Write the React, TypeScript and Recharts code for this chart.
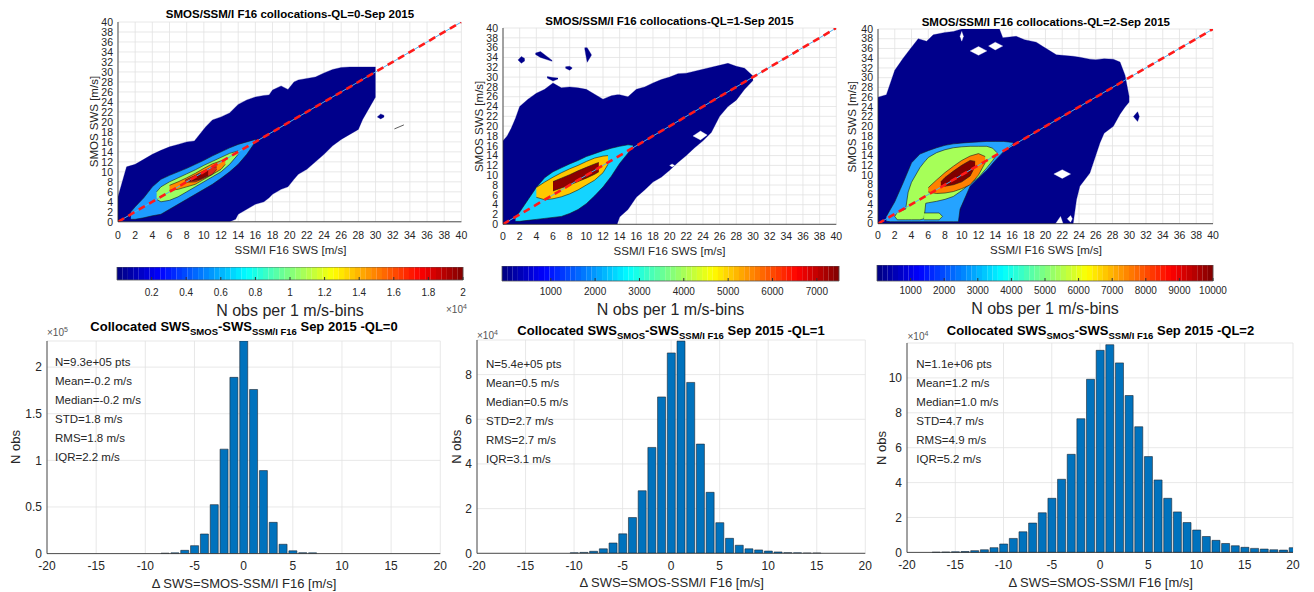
import React from 'react';
import { ComposedChart, Area, Line, Bar, XAxis, YAxis, CartesianGrid, ReferenceArea } from 'recharts';

type Tri = [number, number, number];

const FONT = '"Liberation Sans", Arial, Helvetica, sans-serif';
const INK = '#262626';
const GRID = '#e2e2e2';

// ---------- axis ticks ----------
const swsTicks = [0, 2, 4, 6, 8, 10, 12, 14, 16, 18, 20, 22, 24, 26, 28, 30, 32, 34, 36, 38, 40];
const diffTicks = [-20, -15, -10, -5, 0, 5, 10, 15, 20];
const hist0YTicks = [0, 0.5, 1, 1.5, 2];
const hist1YTicks = [0, 2, 4, 6, 8];
const hist2YTicks = [0, 2, 4, 6, 8, 10];
const cb0Ticks = [0.2, 0.4, 0.6, 0.8, 1, 1.2, 1.4, 1.6, 1.8, 2];
const cb1Ticks = [1000, 2000, 3000, 4000, 5000, 6000, 7000];
const cb2Ticks = [1000, 2000, 3000, 4000, 5000, 6000, 7000, 8000, 9000, 10000];
const cb0Domain = [0, 2];
const cb1Domain = [-100, 7500];
const cb2Domain = [0, 10000];

// ---------- 1:1 line ----------
const oneToOneX = [0, 40];
const oneToOneY = [0, 40];

// ---------- QL=0 contour levels [x, yLow, yHigh] ----------
const ql0Navy: Tri[] = [[0,0,5],[0.5,0,8],[1,0,11],[2,0,11.5],[3,0,12.5],[4,0,13.5],[5,0,14.3],[6,0,15],[7,0,15.5],[8,0,16],[8.9,0,16.2],[10.2,0,19],[11,0,20.4],[12,0,21],[13,0,21.8],[13.7,0.5,23],[14,1.5,23.5],[15,2.5,24.4],[16,3.5,25],[17,4,25.3],[17.6,4.8,25.4],[18,5.5,26.4],[19,6.5,27.2],[19.8,7,26.5],[20.5,8.5,28],[21,9.5,28.4],[22,10.5,28.7],[23,12,29],[24,13.5,29.8],[25,15.2,30.5],[26,16.5,30.9],[27,17.5,31],[28,18.5,31],[28.5,20.5,31],[29,22,31],[30,25,31]];
const ql0NavyIsland: Tri[] = [[30.2,21,21],[30.6,20.6,21.6],[31,21,21.3]];
const ql0Light: Tri[] = [[1.5,0.5,2],[2,0.5,3],[3,0.8,4.8],[4,1.2,7],[5,1.5,8.5],[6,2.5,9.3],[7,3.5,10],[8,4.5,10.7],[9,5.5,11.5],[10,6.5,12.3],[11,7.5,13.2],[12,8.7,14],[13,10,14.8],[14,11.5,15.5],[15,13.5,16],[16,16,16.5]];
const ql0Green: Tri[] = [[4.5,4.5,6],[5,4,7],[6,4.3,8],[7,5,8.8],[8,6,9.6],[9,7,10.4],[10,8,11.3],[11,9,12.1],[12,10,12.9],[13,11.5,13.7],[14,13.5,14.2]];
const ql0Orange: Tri[] = [[6,6.3,7.3],[7,6.5,8],[8,7,8.8],[9,7.5,9.7],[10,8.5,10.7],[11,9.5,11.6],[12,10.5,12.2],[12.5,11.5,12.3]];
const ql0Red: Tri[] = [[7.8,7.9,8.3],[9,8,9.3],[10,8.7,10.2],[11,9.5,11],[11.5,10.5,11]];
const ql0DarkRed: Tri[] = [[8.3,8.1,8.4],[9.5,8.5,9.5],[10.5,9.3,10.2]];
const ql0StrayX = [32.2, 33.3];
const ql0StrayY = [18.6, 19.4];

// ---------- QL=1 contour levels ----------
const ql1Navy: Tri[] = [[0,0,17],[0.5,0,18],[1,0,19.6],[1.5,0,21.6],[2,0,24],[3,0,25.5],[4,0,26.7],[5,0,27.5],[6,0,28.8],[7,0,27.8],[8,0,28],[9,0,27.8],[10,0,27.5],[11,0,26.5],[12,0,25.5],[13,0,26.2],[13.7,0,26.4],[14,1.5,26.4],[15,3,26],[16,5.5,27.5],[17,7,28],[18,8.6,28.8],[19,9.6,29.5],[20,11,30],[21,12.6,30.7],[22,14,30.8],[23,15.6,31.2],[24,17,31.6],[25,18.7,32],[26,22,32.4],[27,24,32.8],[28,25.3,32.2],[29,27.5,31.8],[30,29.3,30.2]];
const ql1Island1: Tri[] = [[1.8,33.5,33.5],[2.2,32.8,34.2],[2.6,33.3,33.8]];
const ql1Island2: Tri[] = [[3.9,34.6,34.9],[4.5,34,35.2],[5.9,33.2,33.4]];
const ql1Island3: Tri[] = [[5.3,29.8,30.1],[6,29.2,29.9],[6.6,29.6,29.8]];
const ql1Island4: Tri[] = [[9.8,35.8,36],[10.1,33,36],[10.6,34.4,34.6]];
const ql1Island5: Tri[] = [[7.5,31.8,32.1],[8,31.4,32.2],[8.3,31.8,31.9]];
const ql1Hole1: Tri[] = [[22.8,18,18],[23.7,17.2,19],[24.5,18.2,18.2]];
const ql1Hole2: Tri[] = [[20,12,12],[20.3,11.7,12.3],[20.6,12,12]];
const ql1Cyan: Tri[] = [[1.5,0.6,1.5],[2,0.6,2.5],[3,0.8,5],[4,1,7.5],[5,1.2,9.5],[6,1.4,10.7],[7,1.6,11.5],[8,2.2,12.3],[9,3,13],[10,4.2,13.8],[11,5.8,14.4],[12,7.6,15],[13,9.8,15.5],[14,12.4,15.9],[15,14.5,16.2],[15.6,15.8,16.1]];
const ql1Yellow: Tri[] = [[4,5.5,7.5],[5,5,8.6],[6,5.2,9.6],[7,5.6,10.5],[8,6.2,11.3],[9,7,12],[10,8,12.8],[11,9,13.5],[12,10.5,13.9],[12.6,12.2,14]];
const ql1DarkRed: Tri[] = [[6,6.8,8.7],[7,7.4,9.4],[8,8,10.1],[9,8.7,10.9],[10,9.4,11.6],[11,10.2,12.3],[11.5,10.7,12.6]];

// ---------- QL=2 contour levels ----------
const ql2Navy: Tri[] = [[0,0,26],[1,0,26.5],[1.5,0,29],[2,0,31.5],[3,0,34],[3.8,0,35.8],[4.8,0,38],[5.8,0,37.5],[6.6,0,38.8],[8,0,39.3],[9,0,39.5],[10,0,40],[14.5,0,40],[14.9,0,38.2],[16.5,0,38.5],[17.5,0,37.8],[18.9,0,37.3],[19.7,0,36.4],[21.3,0,34.7],[23.3,0,34.4],[23.7,4.9,34.3],[24.1,7.7,34.2],[25.3,10.4,33.8],[26,14,33.7],[26.5,16.6,33.8],[27,18.6,33.9],[28.1,20,33.8],[28.9,22.5,33.2],[29.5,24,30.5],[30,25,26]];
const ql2Island: Tri[] = [[30.5,22,22],[31,21,23],[31.2,22,22]];
const ql2Hole1: Tri[] = [[11,35.5,35.5],[12,34.6,36.4],[13,35.5,35.5]];
const ql2Hole2: Tri[] = [[13.2,36.5,36.5],[14,35.7,37.3],[14.9,36.5,36.5]];
const ql2Hole3: Tri[] = [[9.8,38.5,38.5],[10,37.5,39.5],[10.2,38.5,38.5]];
const ql2Hole4: Tri[] = [[21,10.2,10.2],[22,9.3,11.1],[23,10.2,10.2]];
const ql2Hole5: Tri[] = [[21.2,0,0],[21.8,0,1.5],[22.1,0,0]];
const ql2Hole6: Tri[] = [[22.6,1,1],[23,0.3,1.7],[23.2,1,1]];
const ql2Light: Tri[] = [[1,0.5,1.5],[1.5,0.4,3],[2,0.4,4.5],[3,0.4,8.4],[4,0.4,12.5],[5,0.4,14.3],[6,0.4,15],[7,0.4,15.6],[8,0.4,16.1],[9,0.4,16.4],[9.6,0.4,16.5],[9.8,3,16.55],[11,7.7,16.7],[12,9.4,16.8],[13,11,16.9],[14,13,16.9],[15,14.8,16.9],[16.1,16.3,16.7]];
const ql2GreenBody: Tri[] = [[2,1.5,1.5],[2.3,0.8,2.3],[3.3,0.8,3],[3.6,0.8,6.5],[4,0.8,8.5],[5,0.8,11.5],[5.5,1,12.6],[5.7,4.2,13],[6,4.3,13.6],[7,4.6,14.6],[8,5,15.2],[9,5.6,15.6],[10,6.8,15.8],[11,8.2,15.9],[12,9.5,15.9],[13,11.5,15.9],[13.7,13,15.5],[14.2,14.2,14.6]];
const ql2GreenFoot: Tri[] = [[5.5,0.8,2.2],[7.3,0.8,2.2],[7.7,1.5,1.5]];
const ql2Orange: Tri[] = [[6,6.5,7.4],[7,6.2,9],[8,6.3,10.5],[9,6.6,11.8],[10,7.2,13],[11,8,13.9],[12,10,14.4],[12.8,12.5,13.8]];
const ql2DarkRed: Tri[] = [[7.5,7.9,8.6],[8,7.7,9.5],[9,8,10.8],[10,8.6,12],[11,9.8,13],[11.6,11.8,12.8]];

// ---------- histograms ----------
const hist0Bins = [-8, -7, -6, -5, -4, -3, -2, -1, 0, 1, 2, 3, 4, 5, 6, 7];
const hist0Counts = [0.005, 0.008, 0.035, 0.085, 0.21, 0.525, 1.12, 1.89, 2.28, 1.76, 0.89, 0.335, 0.1, 0.03, 0.01, 0.008]; // x1e5
const hist1Bins = [-10, -9, -8, -7, -6, -5, -4, -3, -2, -1, 0, 1, 2, 3, 4, 5, 6, 7, 8, 9, 10, 11, 12, 13, 14, 15];
const hist1Counts = [0.02, 0.04, 0.09, 0.2, 0.46, 0.87, 1.6, 2.8, 4.74, 7.0, 8.97, 9.5, 7.65, 4.89, 2.73, 1.37, 0.67, 0.36, 0.2, 0.15, 0.1, 0.06, 0.03, 0.02, 0.01, 0.01]; // x1e4
const hist2Bins = [-17, -16, -15, -14, -13, -12, -11, -10, -9, -8, -7, -6, -5, -4, -3, -2, -1, 0, 1, 2, 3, 4, 5, 6, 7, 8, 9, 10, 11, 12, 13, 14, 15, 16, 17, 18, 19, 20];
const hist2Counts = [0.01, 0.02, 0.03, 0.05, 0.1, 0.15, 0.27, 0.48, 0.8, 1.18, 1.68, 2.27, 3.1, 4.19, 5.62, 7.66, 9.92, 11.58, 11.9, 10.86, 8.99, 7.2, 5.49, 4.15, 3.1, 2.32, 1.71, 1.28, 0.91, 0.69, 0.51, 0.38, 0.29, 0.23, 0.19, 0.15, 0.13, 0.27]; // x1e4

const stats0 = ['N=9.3e+05 pts', 'Mean=-0.2 m/s', 'Median=-0.2 m/s', 'STD=1.8 m/s', 'RMS=1.8 m/s', 'IQR=2.2 m/s'];
const stats1 = ['N=5.4e+05 pts', 'Mean=0.5 m/s', 'Median=0.5 m/s', 'STD=2.7 m/s', 'RMS=2.7 m/s', 'IQR=3.1 m/s'];
const stats2 = ['N=1.1e+06 pts', 'Mean=1.2 m/s', 'Median=1.0 m/s', 'STD=4.7 m/s', 'RMS=4.9 m/s', 'IQR=5.2 m/s'];

// ---------- helpers ----------
const toRange = (arr: Tri[]) => arr.map(([x, lo, hi]) => ({ x, r: [lo, hi] }));
const toXY = (xs: number[], ys: number[]) => xs.map((x, i) => ({ x, y: ys[i] }));

function jet(t: number) {
  const c = (v: number) => Math.round(255 * Math.max(0, Math.min(1, v)));
  const r = c(1.5 - Math.abs(4 * t - 3));
  const g = c(1.5 - Math.abs(4 * t - 2));
  const b = c(1.5 - Math.abs(4 * t - 1));
  return `rgb(${r},${g},${b})`;
}

const NAVY = '#00008b';
const LINE = '#1a1a1a';

type Layer = { data: Tri[]; fill: string; line?: boolean };
type Box = { x: number; y: number; w: number; h: number };

function ContourPanel({ box, layers, xMargin, stray }: { box: Box; layers: Layer[]; xMargin: number; stray?: { x: number; y: number }[] }) {
  return (
    <div style={{ position: 'absolute', left: box.x - 40, top: box.y - 5 }}>
      <ComposedChart width={box.w + 50} height={box.h + 30} margin={{ top: 5, right: 10, left: 0, bottom: 0 }}>
        <CartesianGrid stroke={GRID} strokeWidth={0.8} />
        <XAxis type="number" dataKey="x" domain={[0, 40]} ticks={swsTicks} interval={0} allowDataOverflow
          height={25} tickLine={false} tickSize={0} tickMargin={xMargin}
          tick={{ fontSize: 10.5, fill: INK, fontFamily: FONT }} axisLine={{ stroke: INK, strokeWidth: 0.8 }} />
        <YAxis type="number" domain={[0, 40]} ticks={swsTicks} interval={0} allowDataOverflow
          width={40} tickLine={false} tickSize={0} tickMargin={5}
          tick={{ fontSize: 10.5, fill: INK, fontFamily: FONT }} axisLine={{ stroke: INK, strokeWidth: 0.8 }} />
        <XAxis xAxisId="top" orientation="top" type="number" domain={[0, 40]} height={0} tick={false} tickLine={false} axisLine={{ stroke: INK, strokeWidth: 0.8 }} />
        <YAxis yAxisId="right" orientation="right" type="number" domain={[0, 40]} width={0} tick={false} tickLine={false} axisLine={{ stroke: INK, strokeWidth: 0.8 }} />
        {layers.map((l, i) => (
          <Area key={i} data={toRange(l.data)} dataKey="r" type="linear" fill={l.fill} fillOpacity={1}
            stroke={l.line ? LINE : l.fill} strokeWidth={l.line ? 0.6 : 0.3}
            isAnimationActive={false} dot={false} activeDot={false} />
        ))}
        {stray && (
          <Line data={stray} dataKey="y" type="linear" stroke="#333" strokeWidth={0.8} dot={false} activeDot={false} isAnimationActive={false} />
        )}
        <Line data={toXY(oneToOneX, oneToOneY)} dataKey="y" type="linear" stroke="#4fb0ea" strokeWidth={1} dot={false} activeDot={false} isAnimationActive={false} />
        <Line data={toXY(oneToOneX, oneToOneY)} dataKey="y" type="linear" stroke="#ff1a1a" strokeWidth={2.6} strokeDasharray="7 5" dot={false} activeDot={false} isAnimationActive={false} />
      </ComposedChart>
    </div>
  );
}

function ColorBar({ box, domain, ticks, margin }: { box: Box; domain: number[]; ticks: number[]; margin: number }) {
  const n = 64;
  const step = (domain[1] - domain[0]) / n;
  const cells = Array.from({ length: n }, (_, i) => i);
  return (
    <div style={{ position: 'absolute', left: box.x - 20, top: box.y }}>
      <ComposedChart width={box.w + 45} height={box.h + 22} margin={{ top: 0, right: 25, left: 20, bottom: 0 }}>
        <XAxis type="number" dataKey="x" domain={domain} ticks={ticks} interval={0} allowDataOverflow height={22}
          axisLine={false} tickSize={-3} tickMargin={margin} tickLine={{ stroke: '#333', strokeWidth: 1 }}
          tick={{ fontSize: 10, fill: INK, fontFamily: FONT }} />
        <YAxis hide type="number" domain={[0, 1]} />
        {cells.map((i) => (
          <ReferenceArea key={i} x1={domain[0] + i * step} x2={domain[0] + (i + 1) * step + step * 0.02} y1={0} y2={1}
            fill={jet((i + 0.5) / n)} fillOpacity={1} stroke="none" ifOverflow="extendDomain" />
        ))}
        <ReferenceArea x1={domain[0]} x2={domain[1]} y1={0} y2={1} fill="none" stroke="#555" strokeWidth={0.8} />
      </ComposedChart>
    </div>
  );
}

function HistPanel({ box, bins, counts, yMax, yTicks }: { box: Box; bins: number[]; counts: number[]; yMax: number; yTicks: number[] }) {
  const data = bins.map((b, i) => ({ x: b, v: counts[i] }));
  return (
    <div style={{ position: 'absolute', left: box.x - 40, top: box.y - 5 }}>
      <ComposedChart data={data} width={box.w + 50} height={box.h + 30} margin={{ top: 5, right: 10, left: 0, bottom: 0 }}>
        <CartesianGrid stroke={GRID} strokeWidth={0.8} />
        <XAxis type="number" dataKey="x" domain={[-20, 20]} ticks={diffTicks} interval={0} allowDataOverflow
          height={25} tickLine={false} tickSize={0} tickMargin={8}
          tick={{ fontSize: 12, fill: INK, fontFamily: FONT }} axisLine={{ stroke: INK, strokeWidth: 0.8 }} />
        <YAxis type="number" domain={[0, yMax]} ticks={yTicks} interval={0} allowDataOverflow
          width={40} tickLine={false} tickSize={0} tickMargin={5}
          tick={{ fontSize: 12, fill: INK, fontFamily: FONT }} axisLine={{ stroke: INK, strokeWidth: 0.8 }} />
        <XAxis xAxisId="top" orientation="top" type="number" domain={[-20, 20]} height={0} tick={false} tickLine={false} axisLine={{ stroke: INK, strokeWidth: 0.8 }} />
        <YAxis yAxisId="right" orientation="right" type="number" domain={[0, yMax]} width={0} tick={false} tickLine={false} axisLine={{ stroke: INK, strokeWidth: 0.8 }} />
        <Bar dataKey="v" barSize={8} fill="#0072bd" stroke="#1c2733" strokeWidth={0.6} isAnimationActive={false} />
      </ComposedChart>
    </div>
  );
}

// ---------- layout ----------
const T1: Box = { x: 118.3, y: 21.7, w: 343.4, h: 199.8 };
const T2: Box = { x: 502.7, y: 28.2, w: 333.3, h: 196.3 };
const T3: Box = { x: 878.3, y: 29.3, w: 335, h: 194.7 };
const C1: Box = { x: 117, y: 267, w: 346, h: 13 };
const C2: Box = { x: 502, y: 266, w: 337, h: 15 };
const C3: Box = { x: 877, y: 265, w: 336, h: 16 };
const P1: Box = { x: 46.7, y: 340.7, w: 393.3, h: 212.6 };
const P2: Box = { x: 476.7, y: 340, w: 388.3, h: 213.3 };
const P3: Box = { x: 907.3, y: 343.3, w: 386, h: 209.4 };

const layers0: Layer[] = [
  { data: ql0Navy, fill: NAVY },
  { data: ql0NavyIsland, fill: NAVY },
  { data: ql0Light, fill: '#1e9cff', line: true },
  { data: ql0Green, fill: '#9cff62', line: true },
  { data: ql0Orange, fill: '#ff8a00', line: true },
  { data: ql0Red, fill: '#e02a1a', line: true },
  { data: ql0DarkRed, fill: '#8a0000', line: true },
];
const layers1: Layer[] = [
  { data: ql1Navy, fill: NAVY },
  { data: ql1Hole1, fill: '#ffffff' },
  { data: ql1Hole2, fill: '#ffffff' },
  { data: ql1Island1, fill: NAVY },
  { data: ql1Island2, fill: NAVY },
  { data: ql1Island3, fill: NAVY },
  { data: ql1Island4, fill: NAVY },
  { data: ql1Island5, fill: NAVY },
  { data: ql1Cyan, fill: '#14d4ff', line: true },
  { data: ql1Yellow, fill: '#ffc800', line: true },
  { data: ql1DarkRed, fill: '#8c0000', line: true },
];
const layers2: Layer[] = [
  { data: ql2Navy, fill: NAVY },
  { data: ql2Island, fill: NAVY },
  { data: ql2Hole1, fill: '#ffffff' },
  { data: ql2Hole2, fill: '#ffffff' },
  { data: ql2Hole3, fill: '#ffffff' },
  { data: ql2Hole4, fill: '#ffffff' },
  { data: ql2Hole5, fill: '#ffffff' },
  { data: ql2Hole6, fill: '#ffffff' },
  { data: ql2Light, fill: '#25a3ff', line: true },
  { data: ql2GreenBody, fill: '#a6ff58', line: true },
  { data: ql2GreenFoot, fill: '#a6ff58', line: true },
  { data: ql2Orange, fill: '#ff8000', line: true },
  { data: ql2DarkRed, fill: '#800000', line: true },
];

function HistTitle({ cx, y, ql }: { cx: number; y: number; ql: string }) {
  return (
    <text x={cx} y={y} textAnchor="middle" fontWeight="bold" fontSize={13} fill="#000">
      {'Collocated SWS'}
      <tspan fontSize={9.5} dy={4}>{'SMOS'}</tspan>
      <tspan dy={-4}>{'-SWS'}</tspan>
      <tspan fontSize={9.5} dy={4}>{'SSM/I F16'}</tspan>
      <tspan dy={-4}>{` Sep 2015 -QL=${ql}`}</tspan>
    </text>
  );
}

function Exp({ x, y, p }: { x: number; y: number; p: string }) {
  return (
    <text x={x} y={y} fontSize={10} fill="#555">
      {'\u00d710'}
      <tspan fontSize={7} dy={-4}>{p}</tspan>
    </text>
  );
}

function Stats({ x, y, lines }: { x: number; y: number; lines: string[] }) {
  return (
    <g>
      {lines.map((s, i) => (
        <text key={i} x={x} y={y + i * 19} fontSize={11.5} fill={INK}>{s}</text>
      ))}
    </g>
  );
}

export default function App() {
  const topTitle = (q: string) => `SMOS/SSM/I F16 collocations-QL=${q}-Sep 2015`;
  return (
    <div style={{ position: 'absolute', left: 0, top: 0, width: 1314, height: 592, background: '#fff', overflow: 'hidden', fontFamily: FONT }}>
      <ContourPanel box={T1} layers={layers0} xMargin={10} stray={toXY(ql0StrayX, ql0StrayY)} />
      <ContourPanel box={T2} layers={layers1} xMargin={8.5} />
      <ContourPanel box={T3} layers={layers2} xMargin={7.5} />
      <ColorBar box={C1} domain={cb0Domain} ticks={cb0Ticks} margin={12} />
      <ColorBar box={C2} domain={cb1Domain} ticks={cb1Ticks} margin={10} />
      <ColorBar box={C3} domain={cb2Domain} ticks={cb2Ticks} margin={9} />
      <HistPanel box={P1} bins={hist0Bins} counts={hist0Counts} yMax={2.28} yTicks={hist0YTicks} />
      <HistPanel box={P2} bins={hist1Bins} counts={hist1Counts} yMax={9.55} yTicks={hist1YTicks} />
      <HistPanel box={P3} bins={hist2Bins} counts={hist2Counts} yMax={12} yTicks={hist2YTicks} />
      <svg width={1314} height={592} style={{ position: 'absolute', left: 0, top: 0, pointerEvents: 'none', fontFamily: FONT }}>
        {/* top titles */}
        <text x={290} y={17.5} textAnchor="middle" fontWeight="bold" fontSize={11.5}>{topTitle('0')}</text>
        <text x={669.4} y={25} textAnchor="middle" fontWeight="bold" fontSize={11.5}>{topTitle('1')}</text>
        <text x={1045.8} y={26} textAnchor="middle" fontWeight="bold" fontSize={11.5}>{topTitle('2')}</text>
        {/* top x labels */}
        <text x={290.5} y={254} textAnchor="middle" fontSize={11.5} fill={INK}>SSM/I F16 SWS [m/s]</text>
        <text x={669.5} y={255} textAnchor="middle" fontSize={11.5} fill={INK}>SSM/I F16 SWS [m/s]</text>
        <text x={1046} y={254} textAnchor="middle" fontSize={11.5} fill={INK}>SSM/I F16 SWS [m/s]</text>
        {/* top y labels */}
        <text transform="translate(97.5,121.6) rotate(-90)" textAnchor="middle" fontSize={11.5} fill={INK}>SMOS SWS [m/s]</text>
        <text transform="translate(482.5,126.4) rotate(-90)" textAnchor="middle" fontSize={11.5} fill={INK}>SMOS SWS [m/s]</text>
        <text transform="translate(856,126.7) rotate(-90)" textAnchor="middle" fontSize={11.5} fill={INK}>SMOS SWS [m/s]</text>
        {/* colorbar labels */}
        <text x={290} y={315.5} textAnchor="middle" fontSize={16} fill={INK}>N obs per 1 m/s-bins</text>
        <text x={670.5} y={315} textAnchor="middle" fontSize={16} fill={INK}>N obs per 1 m/s-bins</text>
        <text x={1045} y={314} textAnchor="middle" fontSize={16} fill={INK}>N obs per 1 m/s-bins</text>
        <Exp x={446} y={313} p="4" />
        {/* histogram titles */}
        <HistTitle cx={244} y={330.7} ql="0" />
        <HistTitle cx={671} y={335} ql="1" />
        <HistTitle cx={1100.5} y={335} ql="2" />
        <Exp x={47} y={336} p="5" />
        <Exp x={477} y={339} p="4" />
        <Exp x={907.5} y={340} p="4" />
        {/* stats */}
        <Stats x={55} y={365.8} lines={stats0} />
        <Stats x={486} y={368.4} lines={stats1} />
        <Stats x={916.3} y={368.4} lines={stats2} />
        {/* bottom x labels */}
        <text x={244} y={588} textAnchor="middle" fontSize={13} fill={INK}>{'\u0394 SWS=SMOS-SSM/I F16 [m/s]'}</text>
        <text x={671.7} y={587.4} textAnchor="middle" fontSize={13} fill={INK}>{'\u0394 SWS=SMOS-SSM/I F16 [m/s]'}</text>
        <text x={1100.7} y={587.4} textAnchor="middle" fontSize={13} fill={INK}>{'\u0394 SWS=SMOS-SSM/I F16 [m/s]'}</text>
        {/* bottom y labels */}
        <text transform="translate(19.5,447) rotate(-90)" textAnchor="middle" fontSize={13} fill={INK}>N obs</text>
        <text transform="translate(461,446.7) rotate(-90)" textAnchor="middle" fontSize={13} fill={INK}>N obs</text>
        <text transform="translate(885.5,448) rotate(-90)" textAnchor="middle" fontSize={13} fill={INK}>N obs</text>
      </svg>
    </div>
  );
}
